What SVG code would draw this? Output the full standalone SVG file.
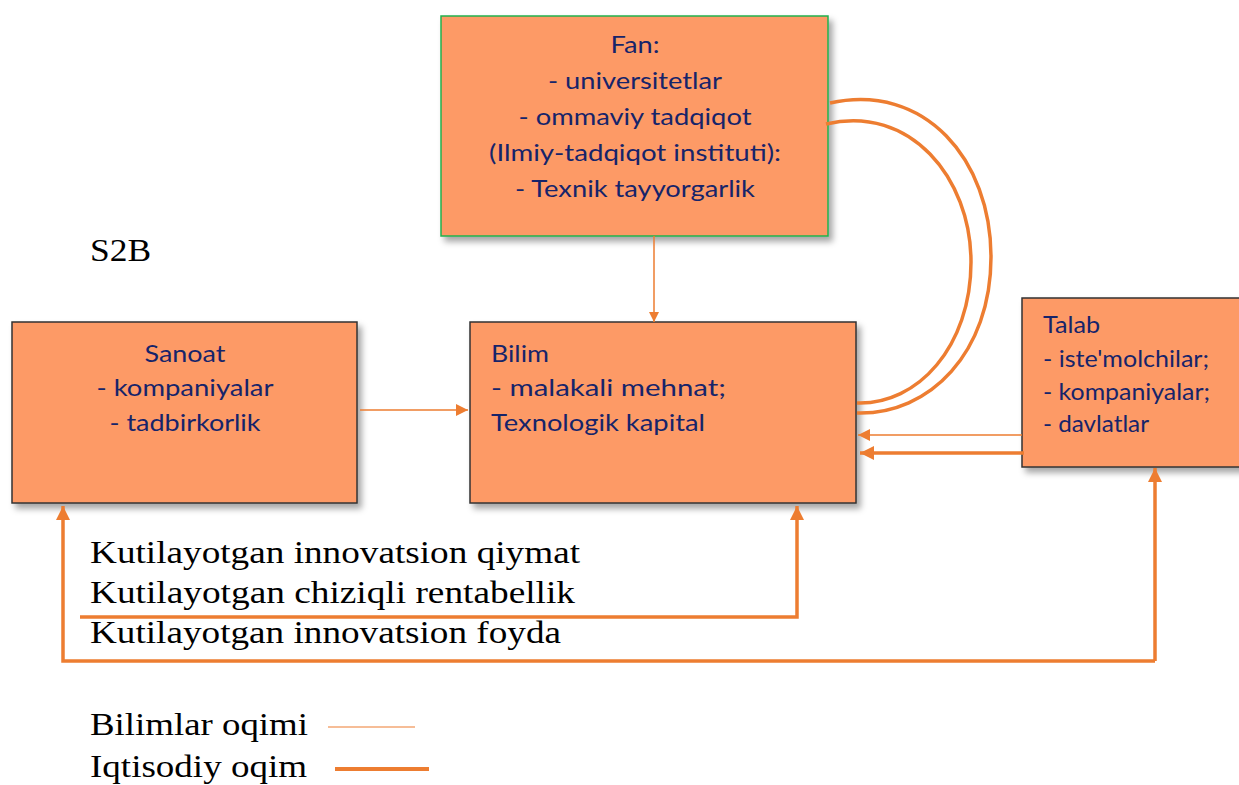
<svg xmlns="http://www.w3.org/2000/svg" width="1239" height="785" viewBox="0 0 1239 785">
  <style>
    .box { fill: #fd9a66; stroke: #333333; stroke-width: 1.5; }
    .box-fan { fill: #fd9a66; stroke: #22b14c; stroke-width: 1.5; }
    .lbl { font-family: Lato, "Liberation Sans", sans-serif; font-size: 24px; fill: #16246a; }
    .mid { text-anchor: middle; }
    .serif { font-family: "Liberation Serif", "Times New Roman", serif; font-size: 32px; fill: #000000; }
    .thin { fill: none; stroke: #ed7d31; stroke-width: 1.5; }
    .thick { fill: none; stroke: #ed7d31; stroke-width: 3.5; }
  </style>
  <defs>
    <filter id="shadow" x="-10%" y="-10%" width="130%" height="130%">
      <feDropShadow dx="4" dy="5" stdDeviation="3" flood-color="#000000" flood-opacity="0.35"/>
    </filter>
    <marker id="headThin" viewBox="0 0 10 10" refX="10" refY="5" markerWidth="10" markerHeight="10" markerUnits="userSpaceOnUse" orient="auto">
      <path d="M0,0 L10,5 L0,10 Z" fill="#ed7d31"/>
    </marker>
    <marker id="headSmall" viewBox="0 0 10 10" refX="10" refY="5" markerWidth="12" markerHeight="12" markerUnits="userSpaceOnUse" orient="auto">
      <path d="M0,0 L10,5 L0,10 Z" fill="#ed7d31"/>
    </marker>
    <marker id="headThick" viewBox="0 0 10 10" refX="10" refY="5" markerWidth="14" markerHeight="14" markerUnits="userSpaceOnUse" orient="auto">
      <path d="M0,0 L10,5 L0,10 Z" fill="#ed7d31"/>
    </marker>
  </defs>

  <rect width="1239" height="785" fill="#ffffff"/>

  <!-- Fan -->
  <g id="node-fan">
    <rect class="box-fan" x="441" y="16" width="387" height="220" filter="url(#shadow)"/>
    <text class="lbl mid" x="635" y="53" textLength="49" lengthAdjust="spacingAndGlyphs">Fan:</text>
    <text class="lbl mid" x="635" y="89" textLength="174" lengthAdjust="spacingAndGlyphs">- universitetlar</text>
    <text class="lbl mid" x="635" y="125" textLength="233" lengthAdjust="spacingAndGlyphs">- ommaviy tadqiqot</text>
    <text class="lbl mid" x="635" y="161" textLength="292" lengthAdjust="spacingAndGlyphs">(Ilmiy-tadqiqot instituti):</text>
    <text class="lbl mid" x="635" y="197" textLength="240" lengthAdjust="spacingAndGlyphs">- Texnik tayyorgarlik</text>
  </g>

  <!-- Sanoat -->
  <g id="node-sanoat">
    <rect class="box" x="12" y="322" width="345" height="181" filter="url(#shadow)"/>
    <text class="lbl mid" x="185" y="362" textLength="81" lengthAdjust="spacingAndGlyphs">Sanoat</text>
    <text class="lbl mid" x="185" y="396" textLength="177" lengthAdjust="spacingAndGlyphs">- kompaniyalar</text>
    <text class="lbl mid" x="185" y="431" textLength="151" lengthAdjust="spacingAndGlyphs">- tadbirkorlik</text>
  </g>

  <!-- Bilim -->
  <g id="node-bilim">
    <rect class="box" x="470" y="322" width="386" height="181" filter="url(#shadow)"/>
    <text class="lbl" x="491" y="362" textLength="58" lengthAdjust="spacingAndGlyphs">Bilim</text>
    <text class="lbl" x="491" y="396" textLength="235" lengthAdjust="spacingAndGlyphs">- malakali mehnat;</text>
    <text class="lbl" x="491" y="431" textLength="214" lengthAdjust="spacingAndGlyphs">Texnologik kapital</text>
  </g>

  <!-- Talab -->
  <g id="node-talab">
    <rect class="box" x="1022" y="298" width="222" height="169" filter="url(#shadow)"/>
    <text class="lbl" x="1043" y="333" textLength="57" lengthAdjust="spacingAndGlyphs">Talab</text>
    <text class="lbl" x="1043" y="367" textLength="166" lengthAdjust="spacingAndGlyphs">- iste'molchilar;</text>
    <text class="lbl" x="1043" y="400" textLength="167" lengthAdjust="spacingAndGlyphs">- kompaniyalar;</text>
    <text class="lbl" x="1043" y="432" textLength="106" lengthAdjust="spacingAndGlyphs">- davlatlar</text>
  </g>

  <!-- Free labels -->
  <g id="labels">
    <text class="serif" x="90" y="261" textLength="61" lengthAdjust="spacingAndGlyphs">S2B</text>
    <text class="serif" x="90" y="563" textLength="490" lengthAdjust="spacingAndGlyphs">Kutilayotgan innovatsion qiymat</text>
    <text class="serif" x="90" y="603" textLength="485" lengthAdjust="spacingAndGlyphs">Kutilayotgan chiziqli rentabellik</text>
    <text class="serif" x="90" y="643" textLength="471" lengthAdjust="spacingAndGlyphs">Kutilayotgan innovatsion foyda</text>
  </g>

  <!-- Connectors -->
  <g id="connectors">
    <!-- knowledge flows -->
    <line class="thin" x1="654" y1="236" x2="654" y2="322" marker-end="url(#headThin)"/>
    <line class="thin" x1="360" y1="410" x2="468" y2="410" marker-end="url(#headSmall)"/>
    <line class="thin" x1="1022" y1="435" x2="858" y2="435" marker-end="url(#headSmall)"/>
    <!-- feedback loops from Fan to Bilim -->
    <path class="thick" d="M830,103 C925,82 991,160 991,257 C991,352 930,415 857,413"/>
    <path class="thick" d="M826,124 C910,104 971,178 971,262 C971,346 918,405 857,403"/>
    <!-- economic flows -->
    <line class="thick" x1="1024" y1="453" x2="860" y2="453" marker-end="url(#headThick)"/>
    <polyline class="thick" points="80,617 797,617 797,506" marker-end="url(#headThick)"/>
    <polyline class="thick" points="1155,661 63,661 63,506" marker-end="url(#headThick)"/>
    <line class="thick" x1="1155" y1="661" x2="1155" y2="468" marker-end="url(#headThick)"/>
  </g>

  <!-- Legend -->
  <g id="legend">
    <text class="serif" x="90" y="735" textLength="218" lengthAdjust="spacingAndGlyphs">Bilimlar oqimi</text>
    <line x1="328" y1="727" x2="415" y2="727" stroke="#ed7d31" stroke-width="1.2"/>
    <text class="serif" x="90" y="777" textLength="217" lengthAdjust="spacingAndGlyphs">Iqtisodiy oqim</text>
    <line x1="335" y1="769" x2="429" y2="769" stroke="#ed7d31" stroke-width="4"/>
  </g>
</svg>
